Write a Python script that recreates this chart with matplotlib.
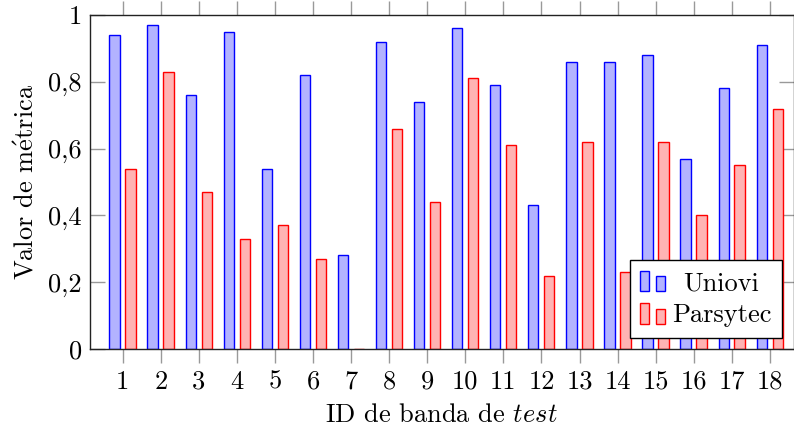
import matplotlib.pyplot as plt
import numpy as np
from matplotlib.patches import Rectangle
from matplotlib.legend_handler import HandlerBase
from matplotlib.transforms import Affine2D

plt.rcParams['font.family'] = ['cmr10', 'DejaVu Serif']
plt.rcParams['mathtext.fontset'] = 'cm'
plt.rcParams['axes.unicode_minus'] = False

# data
bands = list(range(1, 19))
uniovi = [0.94, 0.97, 0.76, 0.95, 0.54, 0.82, 0.28, 0.92, 0.74,
          0.96, 0.79, 0.43, 0.86, 0.86, 0.88, 0.57, 0.78, 0.91]
parsytec = [0.54, 0.83, 0.47, 0.33, 0.37, 0.27, 0.0, 0.66, 0.44,
            0.81, 0.61, 0.22, 0.62, 0.23, 0.62, 0.40, 0.55, 0.72]
yticks = [0, 0.2, 0.4, 0.6, 0.8, 1]
ytick_labels = ['0', '0,2', '0,4', '0,6', '0,8', '1']

blue_fill, blue_edge = '#b3b3ff', '#0000ff'
red_fill, red_edge = '#ffb3b3', '#ff0000'
fs = 19


# pgfplots-style ybar legend image: a tall bar and a shorter one
class TwoBarHandler(HandlerBase):
    def create_artists(self, legend, orig_handle, xdescent, ydescent,
                       width, height, fontsize, trans):
        fc = orig_handle.get_facecolor()
        ec = orig_handle.get_edgecolor()
        bw = width * 0.36
        r1 = Rectangle((-xdescent, -ydescent), bw, height, fc=fc, ec=ec, lw=1.0, transform=trans)
        r2 = Rectangle((-xdescent + width - bw, -ydescent), bw, height * 0.73,
                       fc=fc, ec=ec, lw=1.0, transform=trans)
        return [r1, r2]


fig = plt.figure(figsize=(7.94, 4.29), dpi=100)
ax = fig.add_axes([90 / 794, 80 / 429, 703.5 / 794, 334 / 429])

x = np.array(bands)
w = 0.27
ax.bar(x - 0.215, uniovi, w, color=blue_fill, edgecolor=blue_edge, linewidth=1.0, zorder=2)
ax.bar(x + 0.205, parsytec, w, color=red_fill, edgecolor=red_edge, linewidth=1.0, zorder=2)

ax.set_xlim(0.14, 18.62)
ax.set_ylim(0, 1)
ax.set_xticks(bands)
ax.set_xticklabels([str(b) for b in bands], fontsize=fs)
ax.set_yticks(yticks)
ax.set_yticklabels(ytick_labels, fontsize=fs)

ax.tick_params(axis='x', direction='out', length=10, width=1, color='#999999',
               top=True, bottom=True, pad=5)
ax.tick_params(axis='y', direction='in', length=11, width=1, color='#999999',
               left=True, right=True, pad=6)
for s in ax.spines.values():
    s.set_linewidth(1.0)
    s.set_color('#222222')

ax.set_xlabel(r'ID de banda de $\mathit{test}$', fontsize=fs, labelpad=7)
ax.set_ylabel(r'Valor de m$\mathrm{\acute{e}}$trica', fontsize=fs, labelpad=7)

h_blue = Rectangle((0, 0), 1, 1, fc=blue_fill, ec=blue_edge)
h_red = Rectangle((0, 0), 1, 1, fc=red_fill, ec=red_edge)
leg = ax.legend([h_blue, h_red], ['Uniovi', 'Parsytec'],
                handler_map={Rectangle: TwoBarHandler()},
                loc='lower right', bbox_to_anchor=(0.983, 0.033),
                fontsize=fs, fancybox=False, framealpha=1, edgecolor='black',
                handlelength=0.95, handleheight=0.83, handletextpad=0.24,
                borderpad=0.4, labelspacing=0.3, borderaxespad=0)
leg.get_frame().set_linewidth(1.0)
leg.set_zorder(5)

# centre the legend entries like pgfplots does
fig.canvas.draw()
texts = leg.get_texts()
widths = [t.get_window_extent().width for t in texts]
wmax = max(widths)
for t, wt in zip(texts, widths):
    t.set_transform(t.get_transform() + Affine2D().translate((wmax - wt) / 2, 0))

plt.savefig('out.png', dpi=100)
